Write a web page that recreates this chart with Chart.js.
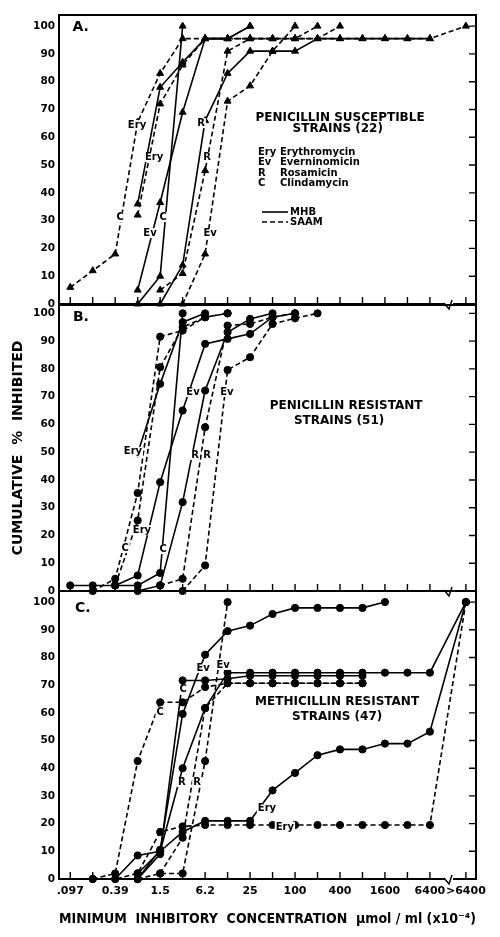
<!DOCTYPE html>
<html>
<head>
<meta charset="utf-8">
<script src="https://cdn.jsdelivr.net/npm/chart.js@4.4.1/dist/chart.umd.min.js"></script>
<style>
  html, body { margin: 0; padding: 0; background: #fff; }
  #wrap { position: relative; width: 500px; height: 937px; }
  canvas { position: absolute; left: 0; top: 0; }
</style>
</head>
<body>
<div id="wrap">
  <canvas id="panelA" width="500" height="937"></canvas>
  <canvas id="panelB" width="500" height="937"></canvas>
  <canvas id="panelC" width="500" height="937"></canvas>
</div>
<script>
// x is measured in twofold dilution steps, 0 = .097, 17.6 = ">6400"
const tickSteps = [0, 1, 2, 3, 4, 5, 6, 7, 8, 9, 10, 11, 12, 13, 14, 15, 16, 17.6];
const tickValues = [0, 2, 4, 6, 8, 10, 12, 14, 16, 17.6];
const tickLabels = ['.097', '0.39', '1.5', '6.2', '25', '100', '400', '1600', '6400', '>6400'];
const yTicks = [0, 10, 20, 30, 40, 50, 60, 70, 80, 90, 100];

// A. penicillin susceptible strains (22)
const aEryMHB = [[3, 36], [4, 78], [5, 87], [6, 95.5], [7, 95.5], [8, 100]];
const aErySAAM = [[3, 32], [4, 72], [5, 86], [6, 95.5], [7, 95.5], [8, 95.5], [9, 95.5], [10, 95.5], [11, 95.5], [12, 100]];
const aEvMHB = [[3, 5], [4, 36.5], [5, 69], [6, 95.5], [7, 95.5], [8, 100]];
const aEvSAAM = [[5, 0], [6, 18], [7, 73], [8, 78.5], [9, 91], [10, 100]];
const aRMHB = [[4, 0], [5, 14], [6, 66], [7, 83], [8, 91], [9, 91], [10, 91], [11, 95.5], [12, 95.5], [13, 95.5], [14, 95.5], [15, 95.5], [16, 95.5]];
const aRSAAM = [[4, 5], [5, 11], [6, 48], [7, 91], [8, 95.5], [9, 95.5], [10, 95.5], [11, 100]];
const aCMHB = [[3, 0], [4, 10], [5, 100]];
const aCSAAM = [[0, 6], [1, 12], [2, 18], [3, 65.5], [4, 83], [5, 95.5], [6, 95.5], [7, 95.5], [8, 95.5], [9, 95.5], [10, 95.5], [11, 95.5], [12, 95.5], [13, 95.5], [14, 95.5], [15, 95.5], [16, 95.5], [17.6, 100]];

// B. penicillin resistant strains (51)
const bEryMHB = [[3, 49.6], [4, 74.6], [5, 96.8], [6, 100]];
const bErySAAM = [[2, 2], [3, 25.4], [4, 80.6], [5, 95], [6, 98.6], [7, 100]];
const bEvMHB = [[2, 2], [3, 5.6], [4, 39.2], [5, 65], [6, 89], [7, 90.8], [8, 92.6], [9, 98.6], [10, 100]];
const bEvSAAM = [[5, 0], [6, 9.2], [7, 79.6], [8, 84.2], [9, 96.2], [10, 98.2], [11, 100]];
const bRMHB = [[3, 0], [4, 2], [5, 32], [6, 72.2], [7, 93.2], [8, 98], [9, 100]];
const bRSAAM = [[4, 2], [5, 4.4], [6, 59], [7, 95.6], [8, 96.2], [9, 98.6], [10, 100]];
const bCMHB = [[0, 2], [1, 2], [2, 2], [3, 2], [4, 6.5], [5, 100]];
const bCSAAM = [[1, 0], [2, 4.4], [3, 35.3], [4, 91.6], [5, 93.8], [6, 98.6], [7, 100]];

// C. methicillin resistant strains (47)
const cEryMHB = [[2, 0], [3, 8.5], [4, 10], [5, 17], [6, 21], [7, 21], [8, 21], [9, 32], [10, 38.3], [11, 44.7], [12, 46.8], [13, 46.8], [14, 48.9], [15, 48.9], [16, 53.2], [17.6, 100]];
const cErySAAM = [[1, 0], [2, 0], [3, 2], [4, 17], [5, 19], [6, 19.5], [7, 19.5], [8, 19.5], [9, 19.5], [10, 19.5], [11, 19.5], [12, 19.5], [13, 19.5], [14, 19.5], [15, 19.5], [16, 19.5], [17.6, 100]];
const cEvMHB = [[3, 0], [4, 10.6], [5, 59.6], [6, 81], [7, 89.5], [8, 91.5], [9, 95.7], [10, 97.9], [11, 97.9], [12, 97.9], [13, 97.9], [14, 100]];
const cEvSAAM = [[3, 0], [4, 2], [5, 2], [6, 42.6], [7, 100]];
const cRMHB = [[3, 2], [4, 10], [5, 40], [6, 61.7], [7, 74.5], [8, 74.5], [9, 74.5], [10, 74.5], [11, 74.5], [12, 74.5], [13, 74.5], [14, 74.5], [15, 74.5], [16, 74.5], [17.6, 100]];
const cRSAAM = [[4, 2], [5, 14.9], [6, 61.7], [7, 70.7], [8, 70.7], [9, 70.7], [10, 70.7], [11, 70.7], [12, 70.7], [13, 70.7]];
const cCMHB = [[3, 0], [4, 9], [5, 71.7], [6, 71.7], [7, 72.3], [8, 73.4], [9, 73.4], [10, 73.4], [11, 73.4], [12, 73.4], [13, 73.4]];
const cCSAAM = [[1, 0], [2, 2], [3, 42.6], [4, 63.8], [5, 63.8], [6, 69.3], [7, 70.7], [8, 70.7], [9, 70.7], [10, 70.7], [11, 70.7], [12, 70.7], [13, 70.7]];

const FONT = '"DejaVu Sans", sans-serif';
const LBL = 'bold 10px ' + FONT;
const TTL = 'bold 12px ' + FONT;
const BIG = 'bold 14px ' + FONT;

function series(data, dashed, style) {
  return {
    data: data,
    showLine: true,
    borderColor: '#000',
    backgroundColor: '#000',
    borderWidth: 1.6,
    borderDash: dashed ? [5, 3] : [],
    pointStyle: style,
    pointRadius: style === 'triangle' ? 4 : 3.6,
    pointBackgroundColor: '#000',
    pointBorderColor: '#000',
    pointBorderWidth: 1,
    tension: 0,
    clip: false
  };
}

// box round the plot, inward tick marks, axis break
const framePlugin = {
  id: 'frame',
  afterDraw(chart) {
    const { ctx, chartArea: a, scales: { x, y } } = chart;
    ctx.save();
    ctx.strokeStyle = '#000';
    ctx.lineWidth = 2;
    ctx.strokeRect(a.left, a.top, a.right - a.left, a.bottom - a.top);
    ctx.lineWidth = 1.4;
    ctx.beginPath();
    x.ticks.forEach(t => {
      const px = x.getPixelForValue(t.value);
      ctx.moveTo(px, a.bottom);
      ctx.lineTo(px, a.bottom - 7);
    });
    for (let v = 10; v <= 100; v += 10) {
      const py = y.getPixelForValue(v);
      ctx.moveTo(a.right, py);
      ctx.lineTo(a.right - 7, py);
    }
    ctx.stroke();
    const bx = x.getPixelForValue(16.85);
    ctx.fillStyle = '#fff';
    ctx.fillRect(bx - 4, a.bottom - 2, 8, 4);
    ctx.beginPath();
    ctx.moveTo(bx - 5, a.bottom - 1);
    ctx.lineTo(bx, a.bottom + 5);
    ctx.lineTo(bx + 3, a.bottom - 4);
    ctx.stroke();
    ctx.restore();
  }
};

function notesPlugin(items, keys) {
  return {
    id: 'notes',
    afterDatasetsDraw(chart) {
      const { ctx, scales: { x, y } } = chart;
      ctx.save();
      ctx.textBaseline = 'middle';
      items.forEach(n => {
        ctx.font = n.font || LBL;
        ctx.textAlign = n.align || 'center';
        const px = x.getPixelForValue(n.x);
        const py = y.getPixelForValue(n.y);
        if (n.bg) {
          const w = ctx.measureText(n.text).width;
          ctx.fillStyle = '#fff';
          ctx.fillRect(px - w / 2 - 1, py - 5, w + 2, 10);
        }
        ctx.fillStyle = '#000';
        ctx.fillText(n.text, px, py);
      });
      (keys || []).forEach(k => {
        const y0 = y.getPixelForValue(k.y);
        ctx.strokeStyle = '#000';
        ctx.lineWidth = 1.6;
        ctx.setLineDash(k.dash);
        ctx.beginPath();
        ctx.moveTo(x.getPixelForValue(k.x0), y0);
        ctx.lineTo(x.getPixelForValue(k.x1), y0);
        ctx.stroke();
        ctx.setLineDash([]);
        ctx.font = LBL;
        ctx.textAlign = 'left';
        ctx.fillStyle = '#000';
        ctx.fillText(k.text, x.getPixelForValue(k.x1) + 2, y0);
      });
      ctx.restore();
    }
  };
}

function makePanel(id, datasets, o) {
  return new Chart(document.getElementById(id), {
    type: 'line',
    data: { datasets: datasets },
    options: {
      responsive: false,
      animation: false,
      events: [],
      layout: { padding: { top: o.top, bottom: o.bottom, left: 0, right: 24 } },
      plugins: { legend: { display: false }, tooltip: { enabled: false } },
      scales: {
        x: {
          type: 'linear',
          min: -0.5,
          max: 18.05,
          afterBuildTicks: ax => { ax.ticks = tickSteps.map(v => ({ value: v })); },
          afterFit: ax => { ax.height = o.xHeight; },
          grid: { display: false, drawTicks: false },
          border: { display: false },
          ticks: {
            display: o.showX,
            autoSkip: false,
            maxRotation: 0,
            padding: 6,
            color: '#000',
            font: { family: FONT, size: 11, weight: 'bold' },
            callback: v => {
              const i = tickValues.indexOf(v);
              return i < 0 ? '' : tickLabels[i];
            }
          },
          title: o.xTitle || { display: false }
        },
        y: {
          min: 0,
          max: o.yMax,
          afterBuildTicks: ax => { ax.ticks = yTicks.map(v => ({ value: v })); },
          afterFit: ax => { ax.width = 59; },
          grid: { display: false, drawTicks: false },
          border: { display: false },
          ticks: { color: '#000', padding: 4, font: { family: FONT, size: 10.5, weight: 'bold' } },
          title: o.yTitle || { display: false }
        }
      }
    },
    plugins: [framePlugin, notesPlugin(o.notes, o.keys)]
  });
}

makePanel('panelA', [
  series(aEryMHB, false, 'triangle'), series(aErySAAM, true, 'triangle'),
  series(aEvMHB, false, 'triangle'), series(aEvSAAM, true, 'triangle'),
  series(aRMHB, false, 'triangle'), series(aRSAAM, true, 'triangle'),
  series(aCMHB, false, 'triangle'), series(aCSAAM, true, 'triangle')
], {
  top: 15, bottom: 632, xHeight: 1, yMax: 104, showX: false,
  notes: [
    { text: 'A.', x: 0.1, y: 99.6, align: 'left', font: BIG },
    { text: 'Ery', x: 2.97, y: 64.4, bg: true }, { text: 'Ery', x: 3.73, y: 52.9, bg: true },
    { text: 'Ev', x: 3.55, y: 25.5, bg: true }, { text: 'Ev', x: 6.22, y: 25.5, bg: true },
    { text: 'C', x: 2.22, y: 31.3, bg: true }, { text: 'C', x: 4.13, y: 31.3, bg: true },
    { text: 'R', x: 5.82, y: 65.1, bg: true }, { text: 'R', x: 6.09, y: 52.9, bg: true },
    { text: 'PENICILLIN SUSCEPTIBLE', x: 12.0, y: 67.1, font: TTL },
    { text: 'STRAINS (22)', x: 11.9, y: 62.9, font: TTL },
    { text: 'Ery', x: 8.35, y: 54.7, align: 'left' }, { text: 'Erythromycin', x: 9.33, y: 54.7, align: 'left' },
    { text: 'Ev', x: 8.35, y: 51.1, align: 'left' }, { text: 'Everninomicin', x: 9.33, y: 51.1, align: 'left' },
    { text: 'R', x: 8.35, y: 47.1, align: 'left' }, { text: 'Rosamicin', x: 9.33, y: 47.1, align: 'left' },
    { text: 'C', x: 8.35, y: 43.5, align: 'left' }, { text: 'Clindamycin', x: 9.33, y: 43.5, align: 'left' }
  ],
  keys: [
    { text: 'MHB', x0: 8.53, x1: 9.69, y: 33.1, dash: [] },
    { text: 'SAAM', x0: 8.53, x1: 9.69, y: 29.5, dash: [5, 3] }
  ]
});

makePanel('panelB', [
  series(bEryMHB, false, 'circle'), series(bErySAAM, true, 'circle'),
  series(bEvMHB, false, 'circle'), series(bEvSAAM, true, 'circle'),
  series(bRMHB, false, 'circle'), series(bRSAAM, true, 'circle'),
  series(bCMHB, false, 'circle'), series(bCSAAM, true, 'circle')
], {
  top: 305, bottom: 345, xHeight: 1, yMax: 103, showX: false,
  yTitle: {
    display: true, text: 'CUMULATIVE  %  INHIBITED', color: '#000',
    font: { family: FONT, size: 14, weight: 'bold' }, padding: { top: 10, bottom: 0 }
  },
  notes: [
    { text: 'B.', x: 0.12, y: 98.7, align: 'left', font: BIG },
    { text: 'Ery', x: 2.79, y: 50.1, bg: true }, { text: 'Ery', x: 3.19, y: 21.9, bg: true },
    { text: 'C', x: 2.44, y: 15.5, bg: true }, { text: 'C', x: 4.13, y: 15.1, bg: true },
    { text: 'Ev', x: 5.46, y: 71.7, bg: true }, { text: 'Ev', x: 6.97, y: 71.7, bg: true },
    { text: 'R', x: 5.55, y: 49, bg: true }, { text: 'R', x: 6.09, y: 49, bg: true },
    { text: 'PENICILLIN RESISTANT', x: 12.27, y: 66.6, font: TTL },
    { text: 'STRAINS (51)', x: 11.96, y: 61.2, font: TTL }
  ]
});

makePanel('panelC', [
  series(cEryMHB, false, 'circle'), series(cErySAAM, true, 'circle'),
  series(cEvMHB, false, 'circle'), series(cEvSAAM, true, 'circle'),
  series(cRMHB, false, 'circle'), series(cRSAAM, true, 'circle'),
  series(cCMHB, false, 'circle'), series(cCSAAM, true, 'circle')
], {
  top: 591, bottom: 0, xHeight: 58, yMax: 104, showX: true,
  xTitle: {
    display: true, text: 'MINIMUM  INHIBITORY  CONCENTRATION  \u00b5mol / ml (x10\u207b\u2074)', color: '#000',
    font: { family: FONT, size: 13.7, weight: 'bold' }, padding: { top: 0, bottom: 9 }
  },
  notes: [
    { text: 'C.', x: 0.21, y: 97.9, align: 'left', font: BIG },
    { text: 'Ev', x: 5.91, y: 76.2, bg: true }, { text: 'Ev', x: 6.8, y: 77.3, bg: true },
    { text: 'C', x: 5.02, y: 68.3, bg: true }, { text: 'C', x: 4.0, y: 60.3, bg: true },
    { text: 'R', x: 4.97, y: 35, bg: true }, { text: 'R', x: 5.64, y: 35, bg: true },
    { text: 'Ery', x: 8.75, y: 25.6, bg: true }, { text: 'Ery', x: 9.55, y: 18.8, bg: true },
    { text: 'METHICILLIN RESISTANT', x: 11.87, y: 63.9, font: TTL },
    { text: 'STRAINS (47)', x: 11.87, y: 58.5, font: TTL }
  ]
});
</script>
</body>
</html>
